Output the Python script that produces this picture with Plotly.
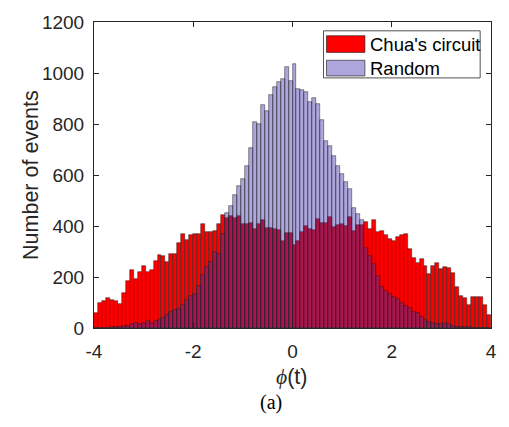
import numpy as np
import plotly.graph_objects as go

# Histogram bins: 100 equal bins over [-4, 4]
bin_lo, bin_hi, n_bins = -4.0, 4.0, 100

# Event counts per bin, Chua's circuit
chua_counts = [
    58, 100, 105, 116, 108, 105, 94, 136, 183, 227,
    192, 220, 242, 221, 227, 261, 286, 281, 259, 292,
    292, 335, 368, 346, 366, 369, 367, 407, 375, 378,
    381, 407, 443, 430, 440, 432, 440, 407, 407, 411,
    389, 407, 423, 394, 394, 389, 385, 342, 372, 372,
    324, 340, 378, 400, 389, 385, 427, 411, 411, 434,
    398, 404, 407, 400, 434, 381, 404, 404, 414, 388,
    424, 375, 380, 365, 350, 340, 356, 366, 368, 308,
    273, 256, 269, 243, 211, 243, 254, 230, 239, 234,
    214, 162, 127, 118, 89, 121, 122, 121, 89, 50,
]

# Event counts per bin, random signal
random_counts = [
    0, 0, 1, 1, 2, 3, 4, 6, 9, 14,
    18, 14, 21, 26, 21, 28, 31, 38, 52, 62,
    70, 76, 90, 110, 124, 135, 165, 207, 239, 258,
    300, 291, 369, 450, 478, 520, 555, 584, 636, 704,
    807, 799, 874, 852, 915, 945, 964, 977, 1022, 970,
    1035, 938, 932, 925, 887, 903, 880, 816, 732, 713,
    674, 636, 604, 571, 546, 471, 449, 425, 314, 282,
    250, 205, 160, 145, 135, 122, 112, 100, 85, 80,
    62, 58, 42, 30, 22, 20, 17, 14, 18, 14,
    7, 5, 3, 3, 2, 1, 1, 0, 0, 0,
]

series_names = ["Chua's circuit", "Random"]
x_ticks = [-4, -2, 0, 2, 4]
y_ticks = [0, 200, 400, 600, 800, 1000, 1200]

edges = np.linspace(bin_lo, bin_hi, n_bins + 1)
centers = (edges[:-1] + edges[1:]) / 2
bw = edges[1] - edges[0]

RED = "rgb(255,0,0)"
BLUE = "rgba(65,48,171,0.43)"
EDGE = "rgba(30,30,30,0.8)"
AX = "#262626"
SANS = "Arial"
SERIF = "Times New Roman"

W, H = 509, 427
L, R, T, B = 94, 12, 16, 99
pw, ph = W - L - R, H - T - B


def px(x):
    return (x - L) / pw


def py(y):
    return (H - B - y) / ph


fig = go.Figure()
fig.add_trace(go.Bar(
    x=centers, y=chua_counts, width=bw, name=series_names[0],
    marker=dict(color=RED, line=dict(color=EDGE, width=0.6)),
    showlegend=False,
))
fig.add_trace(go.Bar(
    x=centers, y=random_counts, width=bw, name=series_names[1],
    marker=dict(color=BLUE, line=dict(color=EDGE, width=0.6)),
    showlegend=False,
))

axis_common = dict(
    showline=True, linecolor=AX, linewidth=1, mirror="ticks",
    ticks="inside", ticklen=5, tickcolor=AX, tickwidth=1,
    showgrid=False, zeroline=False,
    tickfont=dict(family=SANS, size=19, color=AX),
)

fig.update_layout(
    width=W, height=H,
    margin=dict(l=L, r=R, t=T, b=B, pad=0),
    paper_bgcolor="white", plot_bgcolor="white",
    barmode="overlay", bargap=0,
    xaxis=dict(range=[bin_lo, bin_hi], tickvals=x_ticks,
               ticktext=[str(v) for v in x_ticks],
               ticklabelstandoff=6, **axis_common),
    yaxis=dict(range=[0, 1200], tickvals=y_ticks,
               ticktext=[str(v) for v in y_ticks],
               ticklabelstandoff=5, **axis_common),
)

# Legend box drawn with shapes
shapes = [
    dict(type="rect", xref="paper", yref="paper",
         x0=px(327), x1=px(486), y0=py(73), y1=py(25),
         fillcolor="white", line=dict(color=AX, width=0.8)),
    dict(type="rect", xref="paper", yref="paper",
         x0=px(330), x1=px(369), y0=py(47), y1=py(30),
         fillcolor=RED, line=dict(color=EDGE, width=0.8)),
    dict(type="rect", xref="paper", yref="paper",
         x0=px(330), x1=px(369), y0=py(71), y1=py(55),
         fillcolor=BLUE, line=dict(color=EDGE, width=0.8)),
]
fig.update_layout(shapes=shapes)

annotations = [
    dict(text=series_names[0], x=px(372), y=py(39), xanchor="left", yanchor="middle",
         font=dict(family=SANS, size=18.5, color="black")),
    dict(text=series_names[1], x=px(372), y=py(63), xanchor="left", yanchor="middle",
         font=dict(family=SANS, size=18.5, color="black")),
    dict(text="Number of events", x=px(30), y=py(172), textangle=-90,
         xanchor="center", yanchor="middle",
         font=dict(family=SANS, size=21.5, color=AX)),
    dict(text="<span style='font-family:Times New Roman'><i>\u03d5</i></span>(t)",
         x=px(294), y=py(378), xanchor="center", yanchor="middle",
         font=dict(family=SANS, size=21.5, color=AX)),
    dict(text="(a)", x=px(274), y=py(404), xanchor="center", yanchor="middle",
         font=dict(family=SERIF, size=20, color="black")),
]
for a in annotations:
    a.update(xref="paper", yref="paper", showarrow=False)
fig.update_layout(annotations=annotations)

fig.write_html("out.html")
